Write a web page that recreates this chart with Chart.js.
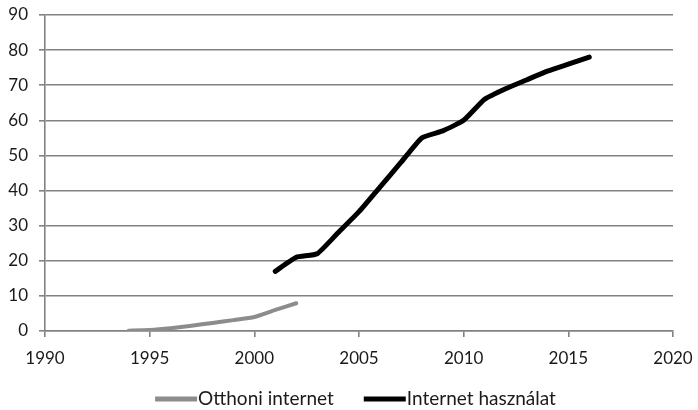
<!DOCTYPE html>
<html>
<head>
<meta charset="utf-8">
<script src="https://cdn.jsdelivr.net/npm/chart.js@4/dist/chart.umd.min.js"></script>
<style>
  html, body { margin: 0; padding: 0; background: #fff; }
  #wrap { width: 698px; height: 410px; position: relative; }
</style>
</head>
<body>
<div id="wrap"><canvas id="c"></canvas></div>
<script>
// Home internet access (%) by year
const homeYears = [1994, 1995, 1996, 1997, 1998, 1999, 2000, 2001, 2002];
const homeValues = [0.1, 0.3, 0.8, 1.5, 2.3, 3.1, 4.0, 6.0, 7.9];

// Internet use (%) by year
const useYears = [2001, 2002, 2003, 2004, 2005, 2006, 2007, 2008, 2009, 2010, 2011, 2012, 2013, 2014, 2015, 2016];
const useValues = [17, 21, 22, 28, 34, 41, 48, 55, 57, 60, 66, 69, 71.5, 74, 76, 78];

const seriesLabels = ['Otthoni internet', 'Internet használat'];
const xTicks = [1990, 1995, 2000, 2005, 2010, 2015, 2020];
const yTicks = [0, 10, 20, 30, 40, 50, 60, 70, 80, 90];

const toPoints = (xs, ys) => xs.map((x, i) => ({ x: x, y: ys[i] }));

const gridColor = '#828282';
const textColor = '#1a1a1a';
const family = 'Lato, "Liberation Sans", sans-serif';
const tickFont = { family: family, size: 17 };
const legendFontSize = 19;

// Bottom legend: short line swatch followed directly by the series name
const lineLegend = {
  id: 'lineLegend',
  afterDraw(chart) {
    const ctx = chart.ctx;
    const sets = chart.data.datasets;
    const swatch = 42, swatchGap = 1, itemGap = 30;
    const centerX = 355.5, centerY = 399;
    ctx.save();
    ctx.font = legendFontSize + 'px ' + family;
    const widths = sets.map(ds => ctx.measureText(ds.label).width);
    let total = 0;
    widths.forEach((w, i) => { total += swatch + swatchGap + w + (i ? itemGap : 0); });
    let x = centerX - total / 2;
    ctx.textBaseline = 'middle';
    ctx.textAlign = 'left';
    sets.forEach((ds, i) => {
      ctx.fillStyle = ds.borderColor;
      ctx.fillRect(x, centerY - 2.5, swatch, 5);
      ctx.fillStyle = textColor;
      ctx.fillText(ds.label, x + swatch + swatchGap, centerY);
      x += swatch + swatchGap + widths[i] + itemGap;
    });
    ctx.restore();
  }
};

new Chart(document.getElementById('c'), {
  type: 'line',
  data: {
    datasets: [
      {
        label: seriesLabels[0],
        data: toPoints(homeYears, homeValues),
        borderColor: '#8c8c8c',
        backgroundColor: '#8c8c8c',
        borderWidth: 4,
        pointRadius: 0,
        tension: 0.15,
        borderCapStyle: 'round',
        borderJoinStyle: 'round'
      },
      {
        label: seriesLabels[1],
        data: toPoints(useYears, useValues),
        borderColor: '#000000',
        backgroundColor: '#000000',
        borderWidth: 5,
        pointRadius: 0,
        tension: 0.15,
        borderCapStyle: 'round',
        borderJoinStyle: 'round'
      }
    ]
  },
  options: {
    responsive: true,
    maintainAspectRatio: false,
    animation: false,
    layout: { padding: { top: 0, right: 0, left: 0, bottom: 21 } },
    scales: {
      x: {
        type: 'linear',
        min: xTicks[0],
        max: xTicks[xTicks.length - 1],
        afterBuildTicks: (scale) => { scale.ticks = xTicks.map(v => ({ value: v })); },
        afterFit: (scale) => {
          scale.height = 58;
          scale.paddingLeft = 0;
          scale.paddingRight = 25;
        },
        ticks: {
          color: textColor,
          font: tickFont,
          padding: 11,
          maxRotation: 0,
          callback: (v) => String(v)
        },
        grid: {
          display: true,
          drawOnChartArea: false,
          drawTicks: true,
          tickLength: 6,
          color: gridColor,
          lineWidth: 1.6
        },
        border: { display: true, color: gridColor, width: 1.6 }
      },
      y: {
        min: yTicks[0],
        max: yTicks[yTicks.length - 1],
        afterBuildTicks: (scale) => { scale.ticks = yTicks.map(v => ({ value: v })); },
        afterFit: (scale) => {
          scale.width = 45;
          scale.paddingTop = 15;
          scale.paddingBottom = 0;
        },
        ticks: {
          color: textColor,
          font: tickFont,
          padding: 11
        },
        grid: {
          color: gridColor,
          lineWidth: 1.6,
          drawTicks: true,
          tickLength: 6
        },
        border: { display: true, color: gridColor, width: 1.6 }
      }
    },
    plugins: {
      legend: { display: false },
      tooltip: { enabled: false }
    }
  },
  plugins: [lineLegend]
});
</script>
</body>
</html>
